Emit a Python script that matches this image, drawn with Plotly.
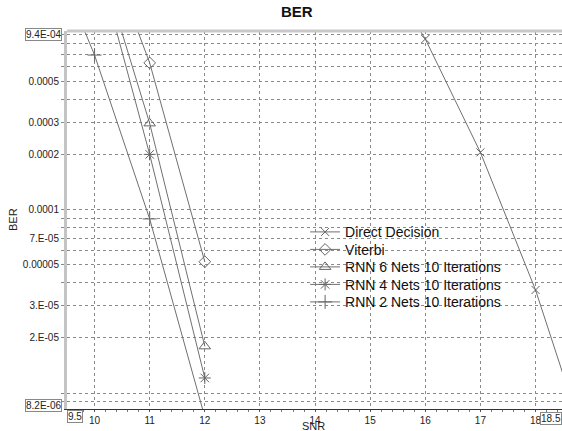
import math
import plotly.graph_objects as go

# ---- data ----
snr_dd = [15, 16, 17, 18, 19]
ber_dd = [2.6e-3, 8.5e-4, 2.05e-4, 3.65e-5, 4.4e-6]

snr_vit = [10, 11, 12]
ber_vit = [4.0e-3, 6.3e-4, 5.2e-5]

snr_rnn6 = [10, 11, 12]
ber_rnn6 = [2.84e-3, 2.95e-4, 1.8e-5]

snr_rnn4 = [10, 11, 12]
ber_rnn4 = [2.6e-3, 2.0e-4, 1.21e-5]

snr_rnn2 = [9, 10, 11, 12]
ber_rnn2 = [3.7e-3, 6.95e-4, 8.9e-5, 7.4e-6]

series_names = ["Direct Decision", "Viterbi", "RNN 6 Nets 10 Iterations",
                "RNN 4 Nets 10 Iterations", "RNN 2 Nets 10 Iterations"]

x_ticks = [10, 11, 12, 13, 14, 15, 16, 17, 18]
y_grid = [float(f"{m}e{e}") for e in (-6, -5, -4) for m in range(1, 10)]
y_labels = {5e-4: "0.0005", 3e-4: "0.0003", 2e-4: "0.0002", 1e-4: "0.0001",
            7e-5: "7.E-05", 5e-5: "0.00005", 3e-5: "3.E-05", 2e-5: "2.E-05"}
y_min, y_max = 8.2e-6, 9.4e-4
x_min, x_max = 9.5, 18.5

LINE = "#707070"
MK = "#666666"
FONT = "Liberation Sans, Arial, sans-serif"

fig = go.Figure()
traces = [
    (snr_dd, ber_dd, "x-thin-open", 8),
    (snr_vit, ber_vit, "diamond-open", 9),
    (snr_rnn6, ber_rnn6, "triangle-up-open", 10),
    (snr_rnn4, ber_rnn4, "asterisk-open", 10),
    (snr_rnn2, ber_rnn2, "cross-thin-open", 10),
]
legend_ids = ["legend", "legend2", "legend3", "legend4", "legend5"]
for (xs, ys, sym, sz), name, lid in zip(traces, series_names, legend_ids):
    fig.add_trace(go.Scatter(
        x=xs, y=ys, name=name, mode="lines+markers", legend=lid,
        line=dict(color=LINE, width=1),
        marker=dict(symbol=sym, size=sz, color=MK, line=dict(color=MK, width=1)),
    ))

ylog = [v for v in y_grid if y_min * 0.999 <= v <= y_max]

legend_common = dict(x=0.481, xanchor="left", yanchor="top",
                     bgcolor="rgba(0,0,0,0)", borderwidth=0,
                     font=dict(size=14, color="#111", family=FONT),
                     itemwidth=30)
legend_rows = [0.5098, 0.4635, 0.4172, 0.3709, 0.3246]

fig.update_layout(
    width=562, height=431,
    margin=dict(l=67, r=0, t=31, b=22),
    paper_bgcolor="white", plot_bgcolor="white",
    font=dict(family=FONT, size=10, color="#222"),
    title=dict(text="<b>BER</b>", x=0.528, xref="container", xanchor="center",
               y=1 - 12 / 431, yref="container", yanchor="middle",
               font=dict(size=15, color="#111", family=FONT)),
    showlegend=True,
    legend=dict(y=legend_rows[0], **legend_common),
    legend2=dict(y=legend_rows[1], **legend_common),
    legend3=dict(y=legend_rows[2], **legend_common),
    legend4=dict(y=legend_rows[3], **legend_common),
    legend5=dict(y=legend_rows[4], **legend_common),
)
fig.update_xaxes(
    range=[x_min, 18.48], tickmode="array", tickvals=x_ticks,
    ticktext=[str(v) for v in x_ticks],
    showgrid=True, gridcolor="#8a8a8a", griddash="dot", gridwidth=1,
    showline=True, linecolor="#333", linewidth=1,
    ticks="outside", ticklen=2, tickcolor="#555",
    minor=dict(dtick=0.2, ticks="outside", ticklen=2, tickcolor="#777", showgrid=False),
    zeroline=False, tickfont=dict(size=10, color="#222"),
)
fig.update_yaxes(
    type="log", range=[math.log10(y_min), math.log10(y_max)],
    tickmode="array", tickvals=ylog,
    ticktext=[y_labels.get(v, "") for v in ylog],
    showgrid=True, gridcolor="#8a8a8a", griddash="dot", gridwidth=1,
    showline=True, linecolor="#c4c4c4", linewidth=3,
    ticks="outside", ticklen=3, tickcolor="#888",
    zeroline=False, tickfont=dict(size=10, color="#222"),
)

# top border (light gray)
fig.add_shape(type="line", xref="paper", yref="paper", x0=0, x1=1, y0=1, y1=1,
              line=dict(color="#c8c8c8", width=3))

box = dict(bordercolor="#888", borderwidth=1, borderpad=0, bgcolor="white",
           font=dict(size=10, color="#222"), showarrow=False)
fig.add_annotation(text="9.4E-04", xref="paper", x=0, xanchor="right", xshift=-5,
                   yref="y", y=math.log10(y_max), yanchor="middle", yshift=-3, **box)
fig.add_annotation(text="8.2E-06", xref="paper", x=0, xanchor="right", xshift=-5,
                   yref="y", y=math.log10(y_min), yanchor="middle", yshift=4, **box)
fig.add_annotation(text="9.5", xref="x", x=x_min, xanchor="left",
                   yref="paper", y=0, yanchor="top", yshift=-1, **box)
fig.add_annotation(text="18.5", xref="paper", x=1, xanchor="right",
                   yref="paper", y=0, yanchor="top", yshift=-3, **box)

fig.add_annotation(text="SNR", xref="paper", x=0.497, xanchor="center",
                   yref="paper", y=0, yanchor="middle", yshift=-17,
                   showarrow=False, font=dict(size=11, color="#222"))
fig.add_annotation(text="BER", xref="paper", x=0, xanchor="center", xshift=-54,
                   yref="paper", y=0.5, yanchor="middle", yshift=0, textangle=-90,
                   showarrow=False, font=dict(size=11, color="#222"))

fig.write_html("out.html")
